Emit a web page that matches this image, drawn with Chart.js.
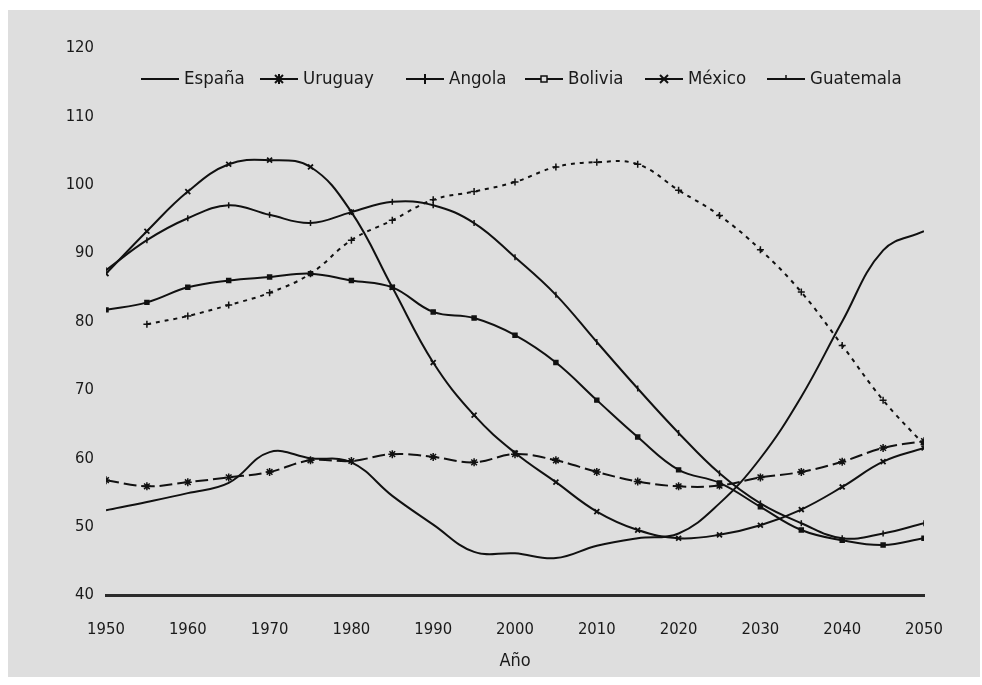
<!DOCTYPE html>
<html><head><meta charset="utf-8">
<script src="https://cdn.jsdelivr.net/npm/chart.js@4.4.0/dist/chart.umd.min.js"></script>
<style>
html,body{margin:0;padding:0;background:#fff;width:982px;height:685px;overflow:hidden}
#bg{position:absolute;left:8px;top:10px;width:972px;height:667px;background:#dedede}
#wrap{position:absolute;left:0;top:0;width:982px;height:685px}
</style></head><body><div id="bg"></div><div id="wrap"><canvas id="c" width="982" height="685"></canvas></div>
<script>
const years = [1950,1955,1960,1965,1970,1975,1980,1985,1990,1995,2000,2005,2010,2015,2020,2025,2030,2035,2040,2045,2050];
const espana    = [52.4,53.6,54.9,56.4,60.9,60.0,59.4,54.5,50.3,46.3,46.1,45.4,47.2,48.3,49.0,53.4,60.0,69.0,80.0,90.4,93.2];
const uruguay   = [56.8,55.9,56.5,57.2,58.0,59.7,59.6,60.6,60.2,59.4,60.6,59.7,58.0,56.6,55.9,56.0,57.2,58.0,59.5,61.5,62.5];
const angola    = [null,79.6,80.8,82.4,84.2,87.0,91.9,94.8,97.8,99.0,100.4,102.6,103.3,103.0,99.2,95.5,90.5,84.3,76.5,68.5,62.0];
const bolivia   = [81.7,82.8,85.0,86.0,86.5,87.0,86.0,85.0,81.4,80.5,78.0,74.0,68.5,63.1,58.3,56.4,52.9,49.5,48.0,47.3,48.3];
const mexico    = [87.0,93.2,99.0,103.0,103.6,102.6,96.0,85.0,74.0,66.3,60.8,56.5,52.2,49.5,48.3,48.8,50.2,52.5,55.8,59.5,61.5];
const guatemala = [87.5,91.9,95.1,97.0,95.6,94.4,96.0,97.5,97.0,94.4,89.4,83.9,77.0,70.2,63.7,57.8,53.4,50.5,48.3,49.0,50.5];
const seriesNames = ['España','Uruguay','Angola','Bolivia','México','Guatemala'];
const xTicks = [1950,1960,1970,1980,1990,2000,2010,2020,2030,2040,2050];
const yTicks = [40,50,60,70,80,90,100,110,120];

const FONT = "'Liberation Sans Narrow','DejaVu Sans Condensed','Open Sans',sans-serif";
const INK = '#111';
const BG = '#dedede';

function pts(arr){ return years.map((x,i)=>({x:x,y:arr[i]})).filter(p=>p.y!==null); }

function drawLegendSample(g,x0,cy,marker){
  g.save();
  g.strokeStyle=INK;g.fillStyle=INK;g.lineWidth=2;
  g.beginPath();g.moveTo(x0,cy);g.lineTo(x0+38,cy);g.stroke();
  const cx=x0+19;
  if(marker==='star'||marker==='plus'){g.beginPath();g.moveTo(cx,cy-5);g.lineTo(cx,cy+5);g.stroke();}
  if(marker==='star'||marker==='x'){g.beginPath();g.moveTo(cx-4,cy-4);g.lineTo(cx+4,cy+4);g.moveTo(cx+4,cy-4);g.lineTo(cx-4,cy+4);g.stroke();}
  if(marker==='plus'){g.beginPath();g.moveTo(cx-6,cy);g.lineTo(cx+6,cy);g.stroke();}
  if(marker==='rect'){g.fillStyle=BG;g.fillRect(cx-3,cy-3,6,6);g.lineWidth=1.5;g.strokeRect(cx-3,cy-3,6,6);}
  if(marker==='tick'){g.lineWidth=1.5;g.beginPath();g.moveTo(cx,cy-4);g.lineTo(cx,cy);g.stroke();}
  g.restore();
}
const legendMarkers=['none','star','plus','rect','x','tick'];

const inlineLegend={
  id:'inlineLegend',
  afterDatasetsDraw(chart,args,opts){
    const g=chart.ctx;
    g.save();
    g.font=opts.fontSize+'px '+FONT;
    g.textBaseline='middle';g.textAlign='left';g.fillStyle='#1a1a1a';
    chart.data.datasets.forEach((d,i)=>{
      const x=opts.starts[i];
      drawLegendSample(g,x,opts.y,legendMarkers[i]);
      g.fillText(d.label,x+43,opts.y);
    });
    g.restore();
  }
};

function ds(i,data,extra){
  return Object.assign({label:seriesNames[i],data:pts(data),borderColor:INK,backgroundColor:INK,
    borderWidth:2,tension:0.4,pointRadius:0,pointBorderWidth:1.5,spanGaps:true},extra);
}

new Chart(document.getElementById('c'),{
  type:'line',
  data:{datasets:[
    ds(0,espana,{}),
    ds(1,uruguay,{borderDash:[13,5],pointStyle:'star',pointRadius:4}),
    ds(2,angola,{borderDash:[4,5],pointStyle:'cross',pointRadius:3.5}),
    ds(3,bolivia,{pointStyle:'rect',pointRadius:2.8}),
    ds(4,mexico,{pointStyle:'crossRot',pointRadius:3.5,pointBorderWidth:1.8}),
    ds(5,guatemala,{pointStyle:'line',pointRotation:90,pointRadius:3})
  ]},
  plugins:[inlineLegend],
  options:{
    responsive:false,animation:false,
    layout:{padding:{left:0,right:58,top:48,bottom:0}},
    font:{family:FONT},
    plugins:{
      tooltip:{enabled:false},
      legend:{display:false},
      inlineLegend:{y:79,fontSize:18.5,starts:[141,260,406,525,645,767]}
    },
    scales:{
      x:{type:'linear',min:1950,max:2050,
        afterBuildTicks:(s)=>{s.ticks=xTicks.map(v=>({value:v}));},
        afterFit:(s)=>{s.height=90;},
        grid:{display:false,drawTicks:false},
        border:{display:true,width:3,color:'#2b2b2b'},
        ticks:{padding:25,color:'#1a1a1a',font:{family:FONT,size:16.5},callback:(v)=>String(v),maxRotation:0},
        title:{display:true,text:'Año',color:'#1a1a1a',font:{family:FONT,size:18},padding:{top:0,bottom:13}}
      },
      y:{type:'linear',min:40,max:120,
        afterBuildTicks:(s)=>{s.ticks=yTicks.map(v=>({value:v}));},
        afterFit:(s)=>{s.width=106;},
        grid:{display:false,drawTicks:false},
        border:{display:false},
        ticks:{padding:12,color:'#1a1a1a',font:{family:FONT,size:16.5}}
      }
    }
  }
});
</script></body></html>
